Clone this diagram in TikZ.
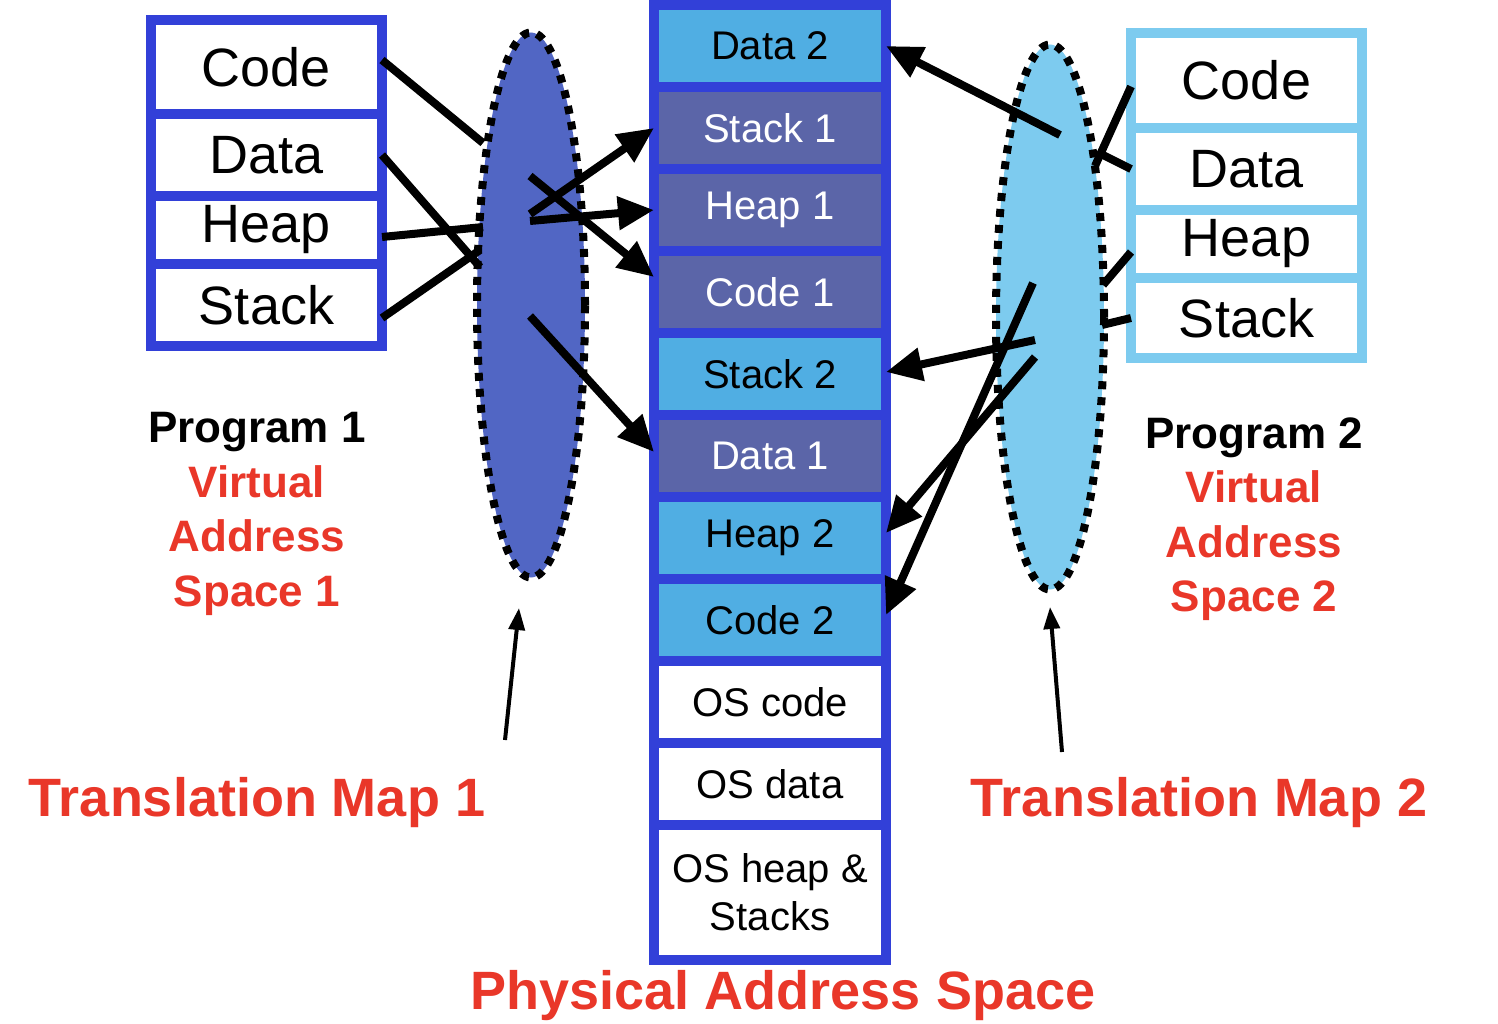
\documentclass[tikz,border=0pt]{standalone}
\usepackage{fontspec}
\setmainfont{Liberation Sans}
\usetikzlibrary{arrows.meta,shapes.geometric}
\definecolor{bordblue}{RGB}{50,64,216}
\definecolor{lightcell}{RGB}{80,174,227}
\definecolor{slatecell}{RGB}{91,101,168}
\definecolor{ellone}{RGB}{81,102,196}
\definecolor{elltwo}{RGB}{125,203,239}
\definecolor{rboxcol}{RGB}{125,203,239}
\definecolor{redtxt}{RGB}{233,55,41}
\begin{document}
\begin{tikzpicture}[x=1pt,y=-1pt,
  pcell/.style={draw=bordblue, line width=10pt, minimum width=232pt, minimum height=82pt,
    inner sep=0pt, outer sep=0pt, font=\fontsize{40}{48}\selectfont, align=center},
  lightc/.style={pcell, fill=lightcell, text=black},
  slatec/.style={pcell, fill=slatecell, text=white},
  whitec/.style={pcell, fill=white, text=black},
  vcell/.style={line width=10pt, minimum width=231pt, inner sep=0pt, outer sep=0pt, fill=white,
    font=\fontsize{54}{60}\selectfont},
  lcell/.style={vcell, draw=bordblue},
  rcell/.style={vcell, draw=rboxcol},
  mapell/.style={ellipse, inner sep=0pt, minimum width=108pt, minimum height=545pt,
    draw=black, line width=8pt, dash pattern=on 8pt off 8pt},
  bigarrow/.style={line width=8pt, -{Triangle[length=36pt,width=32pt]}},
  bigline/.style={line width=8pt},
  thinarrow/.style={line width=4pt, -{Triangle[length=22pt,width=16pt]}},
  redlbl/.style={text=redtxt, font=\fontsize{54}{60}\bfseries\selectfont},
  proglbl/.style={font=\fontsize{44}{54.5}\bfseries\selectfont, align=center}
]
\useasboundingbox (0,0) rectangle (1498,1024);

% translation maps
\node[mapell, fill=ellone] (mapone) at (531,305) {};
\node[mapell, fill=elltwo] (maptwo) at (1050,317) {};

% physical address space column
\node[lightc] (data2) at (770,46) {Data 2};
\node[slatec] (stack1) at (770,128) {Stack 1};
\node[slatec] (heap1) at (770,210) {Heap 1};
\node[slatec] (code1) at (770,292) {Code 1};
\node[lightc] (stack2) at (770,374) {Stack 2};
\node[slatec] (data1) at (770,456) {Data 1};
\node[lightc] (heap2) at (770,538) {Heap 2};
\node[lightc] (code2) at (770,620) {Code 2};
\node[whitec] (oscode) at (770,702) {OS code};
\node[whitec] (osdata) at (770,784) {OS data};
\node[whitec, minimum height=135pt] (osheap) at (770,892.5) {OS heap \&\\ Stacks};

% program 1 virtual address space
\node[lcell, minimum height=94pt] (lcode) at (266.5,67) {Code};
\node[lcell, minimum height=82pt] (ldata) at (266.5,155) {Data};
\node[lcell, minimum height=68pt] (lheap) at (266.5,230) {Heap};
\node[lcell, minimum height=82pt] (lstack) at (266.5,305) {Stack};

% program 2 virtual address space
\node[rcell, minimum height=95pt] (rcode) at (1246.5,80.5) {Code};
\node[rcell, minimum height=82pt] (rdata) at (1246.5,169) {Data};
\node[rcell, minimum height=68pt] (rheap) at (1246.5,244) {Heap};
\node[rcell, minimum height=80pt] (rstack) at (1246.5,318) {Stack};

% inner points of map 1
\coordinate (aone) at (483,143);
\coordinate (atwo) at (480,267);
\coordinate (athree) at (483,227);
\coordinate (afour) at (480,250);
\coordinate (bone) at (530,176);
\coordinate (btwo) at (530,316);
\coordinate (bthree) at (530,221);
\coordinate (bfour) at (530,214);

% inner points of map 2
\coordinate (cone) at (1095,166);
\coordinate (ctwo) at (1097,152);
\coordinate (cthree) at (1103,285);
\coordinate (cfour) at (1102,325);
\coordinate (done) at (1060,135);
\coordinate (dtwo) at (1035,340);
\coordinate (dthree) at (1033,283);
\coordinate (dfour) at (1035,357);

% program 1 connectors
\draw[bigline] ([yshift=7pt]lcode.east) -- (aone);
\draw[bigline] (ldata.east) -- (atwo);
\draw[bigline] ([yshift=-7pt]lheap.east) -- (athree);
\draw[bigline] ([yshift=-13pt]lstack.east) -- (afour);
\draw[bigarrow] (bone) -- ([yshift=15pt]code1.west);
\draw[bigarrow] (btwo) -- ([yshift=4pt]data1.west);
\draw[bigarrow] (bthree) -- (heap1.west);
\draw[bigarrow] (bfour) -- (stack1.west);

% program 2 connectors
\draw[bigline] ([yshift=-6pt]rcode.west) -- (cone);
\draw[bigline] (rdata.west) -- (ctwo);
\draw[bigline] ([yshift=-8pt]rheap.west) -- (cthree);
\draw[bigline] (rstack.west) -- (cfour);
\draw[bigarrow] (done) -- (data2.east);
\draw[bigarrow] (dtwo) -- ([yshift=2pt]stack2.east);
\draw[bigarrow] (dthree) -- ([yshift=5pt]code2.east);
\draw[bigarrow] (dfour) -- ([yshift=5pt]heap2.east);

% labels
\node[proglbl] (pone) at (257,514) {Program 1\\\textcolor{redtxt}{Virtual}\\\textcolor{redtxt}{Address}\\\textcolor{redtxt}{Space 1}};
\node[proglbl] (ptwo) at (1254,519) {Program 2\\\textcolor{redtxt}{Virtual}\\\textcolor{redtxt}{Address}\\\textcolor{redtxt}{Space 2}};
\node[redlbl] (tmone) at (257,803) {Translation Map 1};
\node[redlbl] (tmtwo) at (1199,803) {Translation Map 2};
\node[redlbl] (phys) at (783,996) {Physical Address Space};

% pointers to the maps
\coordinate (tonetail) at (505,740);
\coordinate (tonehead) at (519,608);
\coordinate (ttwotail) at (1062,752);
\coordinate (ttwohead) at (1050,607);
\draw[thinarrow] (tonetail) -- (tonehead);
\draw[thinarrow] (ttwotail) -- (ttwohead);
\end{tikzpicture}
\end{document}
